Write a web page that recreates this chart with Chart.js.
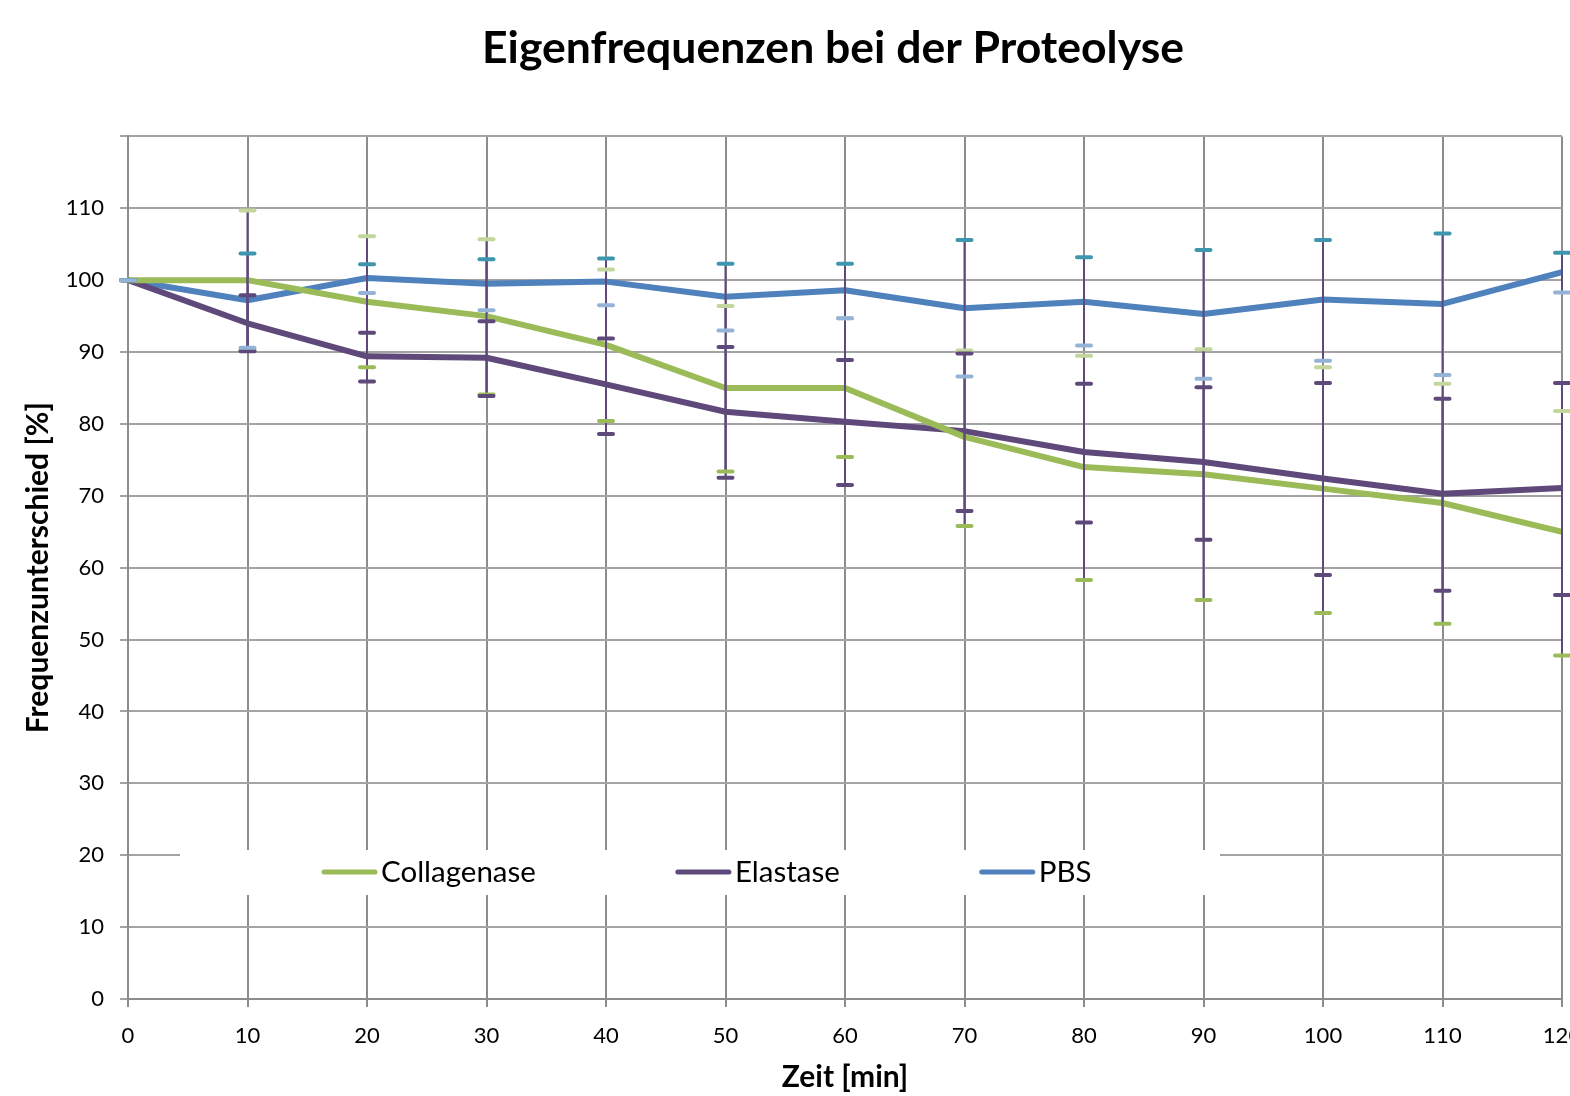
<!DOCTYPE html>
<html>
<head>
<meta charset="utf-8">
<title>Eigenfrequenzen bei der Proteolyse</title>
<script src="https://cdn.jsdelivr.net/npm/chart.js@4.4.0/dist/chart.umd.min.js"></script>
<style>
  html, body { margin: 0; padding: 0; background: #fff; overflow: hidden; }
</style>
</head>
<body>
<canvas id="myChart" width="1570" height="1096"></canvas>
<script>
// Zeit [min]
const times = [0, 10, 20, 30, 40, 50, 60, 70, 80, 90, 100, 110, 120];
const yTicks = [0, 10, 20, 30, 40, 50, 60, 70, 80, 90, 100, 110, 120];

// Frequenzunterschied [%]
const collagenase = [100, 100, 97, 95, 91, 85, 85, 78.2, 74, 73, 71, 69, 65];
const collUpper = [100, 109.7, 106.1, 105.7, 101.5, 96.4, 94.7, 90.2, 89.5, 90.4, 87.9, 85.6, 81.8];
const collLower = [100, 90.2, 87.9, 84.1, 80.4, 73.4, 75.4, 65.8, 58.3, 55.5, 53.7, 52.2, 47.8];

const elastase = [100, 94, 89.4, 89.2, 85.5, 81.7, 80.3, 79, 76.1, 74.7, 72.4, 70.3, 71.1];
const elaUpper = [100, 97.9, 92.7, 94.3, 91.9, 90.7, 88.9, 89.8, 85.6, 85.1, 85.7, 83.5, 85.7];
const elaLower = [100, 90.1, 85.9, 83.9, 78.6, 72.5, 71.5, 67.9, 66.3, 63.9, 59.0, 56.8, 56.2];

const pbs = [100, 97.2, 100.3, 99.5, 99.8, 97.7, 98.6, 96.1, 97.0, 95.3, 97.3, 96.7, 101.1];
const pbsUpper = [100, 103.7, 102.2, 102.9, 103.0, 102.3, 102.3, 105.6, 103.2, 104.2, 105.6, 106.5, 103.8];
const pbsLower = [100, 90.6, 98.2, 95.8, 96.5, 93.0, 94.7, 86.6, 90.9, 86.3, 88.8, 86.8, 98.3];

const FONT = 'Lato, "Open Sans", sans-serif';

function points(values) {
    return times.map((t, i) => ({ x: t, y: values[i] }));
}

// Fehlerbalken: Stiel in Lila, Kappen je Reihe
const errorBars = {
    id: 'errorBars',
    afterDatasetsDraw(chart) {
        const ctx = chart.ctx;
        const xs = chart.scales.x;
        const ys = chart.scales.y;
        ctx.save();
        // stems first
        chart.data.datasets.forEach(ds => {
            ctx.strokeStyle = '#5F497A';
            ctx.lineWidth = 2;
            times.forEach((t, i) => {
                const px = xs.getPixelForValue(t);
                ctx.beginPath();
                ctx.moveTo(px, ys.getPixelForValue(ds.errUp[i]));
                ctx.lineTo(px, ys.getPixelForValue(ds.errLow[i]));
                ctx.stroke();
            });
        });
        // caps
        chart.data.datasets.forEach(ds => {
            ctx.lineWidth = 4;
            ctx.lineCap = 'round';
            times.forEach((t, i) => {
                const px = xs.getPixelForValue(t);
                [[ds.errUp[i], ds.capUp], [ds.errLow[i], ds.capLow]].forEach(([v, col]) => {
                    const py = ys.getPixelForValue(v);
                    ctx.strokeStyle = col;
                    ctx.beginPath();
                    ctx.moveTo(px - 7, py);
                    ctx.lineTo(px + 7, py);
                    ctx.stroke();
                });
            });
        });
        ctx.restore();
    }
};

// Legende innerhalb der Zeichenfläche mit weißem Hintergrund
const boxLegend = {
    id: 'boxLegend',
    afterLayout(chart) {
        // Titel etwas links von der Mitte der Zeichenfläche
        if (chart.titleBlock) chart.titleBlock.right -= 24;
    },
    afterDraw(chart) {
        const ctx = chart.ctx;
        const area = chart.chartArea;
        const left = area.left + 52;
        const top = area.bottom - 149;
        const w = 1040, h = 45;
        ctx.save();
        ctx.fillStyle = '#fff';
        ctx.fillRect(left, top, w, h);
        ctx.font = '29.5px ' + FONT;
        ctx.textBaseline = 'middle';
        let x = left + 142;
        const cy = top + 22;
        chart.data.datasets.forEach(ds => {
            ctx.strokeStyle = ds.borderColor;
            ctx.lineWidth = 5;
            ctx.lineCap = 'round';
            ctx.beginPath();
            ctx.moveTo(x + 2, cy);
            ctx.lineTo(x + 53, cy);
            ctx.stroke();
            ctx.fillStyle = '#000';
            ctx.fillText(ds.label, x + 59, cy);
            x += 59 + ctx.measureText(ds.label).width + 140;
        });
        ctx.restore();
    }
};

const ctx = document.getElementById('myChart').getContext('2d');

const myChart = new Chart(ctx, {
    type: 'line',
    data: {
        datasets: [
            {
                label: 'Collagenase',
                data: points(collagenase),
                errUp: collUpper, errLow: collLower,
                capUp: '#C3D69B', capLow: '#9BBB59',
                borderColor: '#9BBB59'
            },
            {
                label: 'Elastase',
                data: points(elastase),
                errUp: elaUpper, errLow: elaLower,
                capUp: '#5F497A', capLow: '#5F497A',
                borderColor: '#5F497A'
            },
            {
                label: 'PBS',
                data: points(pbs),
                errUp: pbsUpper, errLow: pbsLower,
                capUp: '#3E97AE', capLow: '#95B3D7',
                borderColor: '#4F81BD'
            }
        ]
    },
    options: {
        responsive: false,
        animation: false,
        devicePixelRatio: 1,
        layout: { padding: { left: 0, right: 8, top: 0, bottom: 0 } },
        elements: {
            line: { borderWidth: 6, tension: 0, fill: false, borderCapStyle: 'round', borderJoinStyle: 'round' },
            point: { radius: 0, hoverRadius: 0 }
        },
        plugins: {
            legend: { display: false },
            tooltip: { enabled: false },
            title: {
                display: true,
                fullSize: false,
                text: 'Eigenfrequenzen bei der Proteolyse',
                color: '#000',
                font: { family: FONT, size: 44.5, weight: 'bold' },
                padding: { top: 22, bottom: 61 }
            }
        },
        scales: {
            x: {
                type: 'linear',
                min: 0,
                max: 120,
                afterFit(scale) {
                    scale.height = 97;
                    scale.paddingRight = 0;
                    scale.paddingLeft = 0;
                },
                afterBuildTicks(scale) {
                    scale.ticks = times.map(v => ({ value: v }));
                },
                ticks: {
                    color: '#000',
                    font: { family: FONT, size: 22 },
                    padding: 16,
                    maxRotation: 0,
                    autoSkip: false
                },
                grid: { color: '#8c8c8c', lineWidth: 2, tickLength: 8 },
                border: { color: '#8c8c8c', width: 2 },
                title: {
                    display: true,
                    text: 'Zeit [min]',
                    color: '#000',
                    font: { family: FONT, size: 30, weight: 'bold' },
                    padding: { top: 0, bottom: 1 }
                }
            },
            y: {
                min: 0,
                max: 120,
                afterFit(scale) {
                    scale.width = 128;
                },
                afterBuildTicks(scale) {
                    scale.ticks = yTicks.map(v => ({ value: v }));
                },
                ticks: {
                    color: '#000',
                    font: { family: FONT, size: 22 },
                    padding: 16,
                    callback: v => (v === 120 ? '' : v)
                },
                grid: { color: '#a3a3a3', lineWidth: 2, tickLength: 8 },
                border: { color: '#8c8c8c', width: 2 },
                title: {
                    display: true,
                    text: 'Frequenzunterschied [%]',
                    color: '#000',
                    font: { family: FONT, size: 30, weight: 'bold' },
                    padding: { top: 20, bottom: 0 }
                }
            }
        }
    },
    plugins: [errorBars, boxLegend]
});
</script>
</body>
</html>
